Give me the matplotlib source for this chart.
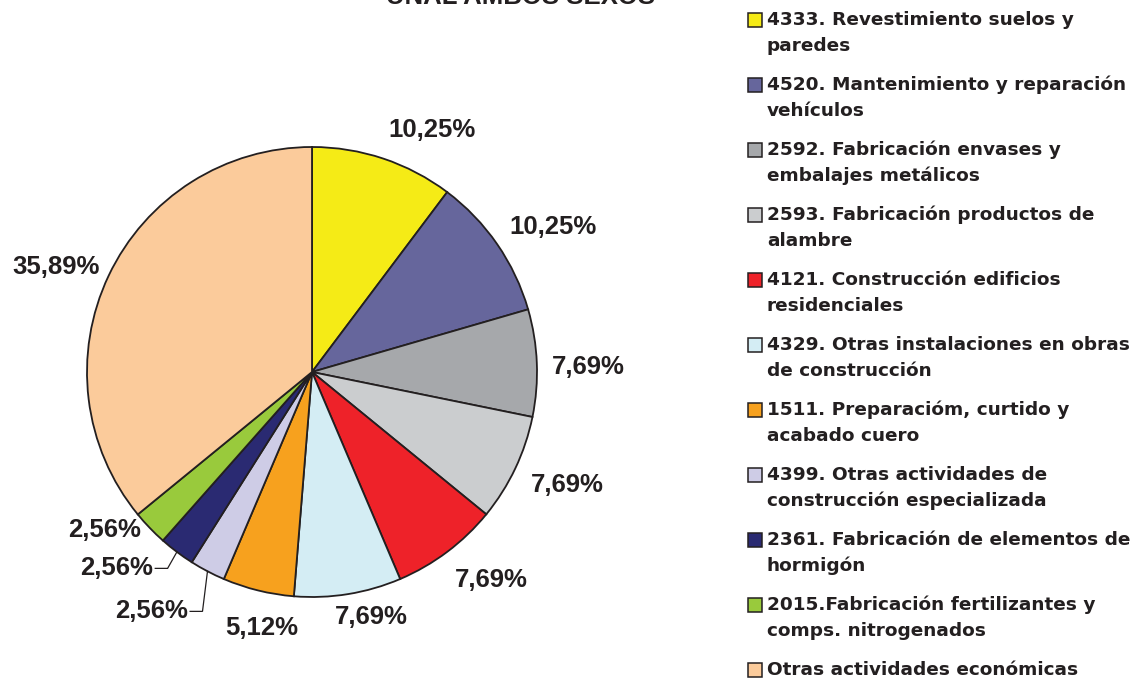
import matplotlib
matplotlib.use("Agg")
import matplotlib.pyplot as plt
from matplotlib.patches import Rectangle
import numpy as np

# ---------------- data ----------------
categories = [
    "4333. Revestimiento suelos y\nparedes",
    "4520. Mantenimiento y reparación\nvehículos",
    "2592. Fabricación envases y\nembalajes metálicos",
    "2593. Fabricación productos de\nalambre",
    "4121. Construcción edificios\nresidenciales",
    "4329. Otras instalaciones en obras\nde construcción",
    "1511. Preparacióm, curtido y\nacabado cuero",
    "4399. Otras actividades de\nconstrucción especializada",
    "2361. Fabricación de elementos de\nhormigón",
    "2015.Fabricación fertilizantes y\ncomps. nitrogenados",
    "Otras actividades económicas",
]
values = [10.25, 10.25, 7.69, 7.69, 7.69, 7.69, 5.12, 2.56, 2.56, 2.56, 35.89]
title_text = "UNAL AMBOS SEXOS"

# ---------------- styles ----------------
colors = ["#F5EB16", "#66669C", "#A6A8AB", "#CBCDCF", "#EE2229", "#D4EDF4",
          "#F7A11E", "#CECCE6", "#2A2A72", "#99CA3C", "#FBCB9B"]
edge = "#231F20"
FONT = "Liberation Sans"
LEG_FONT = "DejaVu Sans"

# label placement (radius factor, angle offset deg) relative to wedge mid-angle
label_r = [1.20, 1.25, 1.23, 1.24, 1.22, 1.12, 1.16, 1.28, 1.23, 1.16, 1.23]
label_da = [-8.0, -3.5, -1.2, 1.6, 3.9, 4.5, 2.8, -6.1, -7.9, -6.6, 3.0]
leader = {7: True, 8: True}

W, H = 1147, 680
fig = plt.figure(figsize=(W / 100, H / 100), dpi=100)

# pie axes: center (312,372) px, radius 225 px
cx, cy, R = 312, 372, 225
ax_w = 700
ax = fig.add_axes([0, 0, ax_w / W, 1])
wedges, _ = ax.pie(values, colors=colors, startangle=90, counterclock=False,
                   wedgeprops=dict(edgecolor=edge, linewidth=1.3))
ax.set_xlim((0 - cx) / R, (ax_w - cx) / R)
ax.set_ylim((cy - H) / R, cy / R)
ax.set_aspect("equal", adjustable="box")
ax.axis("off")

for i, (w, v) in enumerate(zip(wedges, values)):
    mid = np.deg2rad((w.theta1 + w.theta2) / 2)
    ang = mid + np.deg2rad(label_da[i])
    lx, ly = label_r[i] * np.cos(ang), label_r[i] * np.sin(ang)
    txt = f"{v:.2f}%".replace(".", ",")
    ax.text(lx, ly, txt, ha="center", va="center", fontsize=18.5,
            fontweight="bold", family=FONT, color="#231F20")
    if i in leader:
        ex, ey = np.cos(mid), np.sin(mid)
        tx = lx + 0.17
        ax.plot([tx, tx + 0.055, ex], [ly, ly, ey], color=edge, lw=0.9,
                solid_joinstyle="miter")

# title (cut off at the top edge)
fig.text(521 / W, 1 - 4 / H, title_text, ha="center", va="baseline",
         fontsize=18.5, fontweight="bold", family=FONT, color="#231F20")

# legend (manual)
y0, step, line_h = 20, 65, 26
for i, (lab, c) in enumerate(zip(categories, colors)):
    yc = y0 + i * step
    fig.add_artist(Rectangle((748 / W, 1 - (yc + 7) / H), 14 / W, 14 / H,
                             transform=fig.transFigure, facecolor=c,
                             edgecolor=edge, linewidth=1.1))
    for j, line in enumerate(lab.split("\n")):
        fig.text(767 / W, 1 - (yc + j * line_h) / H, line, ha="left",
                 va="center", fontsize=13.3, fontweight="bold", family=LEG_FONT,
                 color="#231F20")

fig.savefig("out.png", dpi=100, facecolor="white")
